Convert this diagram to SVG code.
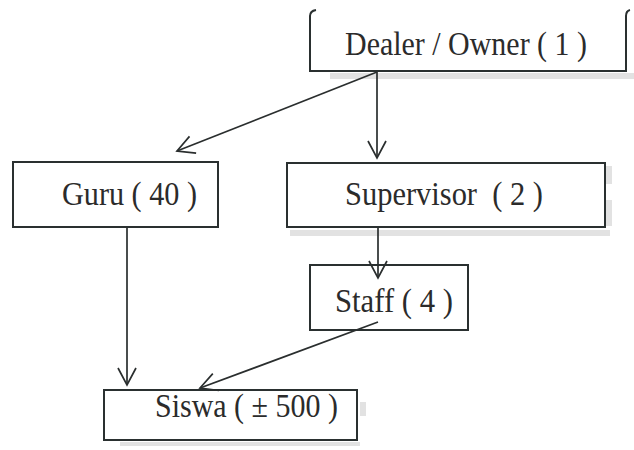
<svg xmlns="http://www.w3.org/2000/svg" width="634" height="450" viewBox="0 0 634 450">
<style>
.box{fill:#fff;stroke:#2a3030;stroke-width:2}
.lbl{font-family:"Liberation Serif","Times New Roman",serif;font-size:33px;fill:#2b2b2b}
.conn{stroke:#2a2e2e;stroke-width:1.7;fill:none;marker-end:url(#arr)}
.scan{fill:#cfcfcf;opacity:0.6}
</style>
<defs>
<marker id="arr" markerUnits="userSpaceOnUse" markerWidth="24" markerHeight="24" viewBox="-20 -12 24 24" refX="0" refY="0" orient="auto">
<path d="M-17,-9 L0,0 L-17,9" fill="none" stroke="#2a2e2e" stroke-width="1.7"/>
</marker>
</defs>
<rect class="scan" x="330" y="73" width="304" height="6"/>
<rect class="scan" x="290" y="230" width="320" height="6"/>
<rect class="scan" x="606" y="166" width="6" height="18"/>
<rect class="scan" x="606" y="200" width="6" height="26"/>
<rect class="scan" x="120" y="442" width="240" height="4"/>
<rect class="scan" x="360" y="402" width="6" height="14"/>
<g id="dealer">
<path d="M316,10 Q310,11 310,16 L310,71 L626,71 L626,16 Q626,11 630,10" fill="#fff" stroke="#2a3030" stroke-width="2"/>
<text class="lbl" x="345" y="55" textLength="242" lengthAdjust="spacingAndGlyphs">Dealer / Owner ( 1 )</text>
</g>
<g id="guru">
<rect class="box" x="13" y="162" width="205" height="65"/>
<text class="lbl" x="62" y="205" textLength="135" lengthAdjust="spacingAndGlyphs">Guru ( 40 )</text>
</g>
<g id="supervisor">
<rect class="box" x="287" y="163" width="318" height="64"/>
<text class="lbl" x="345" y="205" textLength="198" lengthAdjust="spacingAndGlyphs" xml:space="preserve">Supervisor  ( 2 )</text>
</g>
<g id="staff">
<rect class="box" x="310" y="265" width="158" height="65"/>
<text class="lbl" x="335" y="312" textLength="118" lengthAdjust="spacingAndGlyphs">Staff ( 4 )</text>
</g>
<g id="siswa">
<rect class="box" x="104" y="390" width="253" height="50"/>
<text class="lbl" x="155" y="417" textLength="183" lengthAdjust="spacingAndGlyphs">Siswa ( ± 500 )</text>
</g>
<g id="connectors">
<line class="conn" x1="377" y1="72" x2="177" y2="151"/>
<line class="conn" x1="377" y1="72" x2="377" y2="158"/>
<line class="conn" x1="378" y1="228" x2="378" y2="278"/>
<line class="conn" x1="127" y1="228" x2="127" y2="385"/>
<line class="conn" x1="378" y1="322" x2="200" y2="388"/>
</g>
</svg>
